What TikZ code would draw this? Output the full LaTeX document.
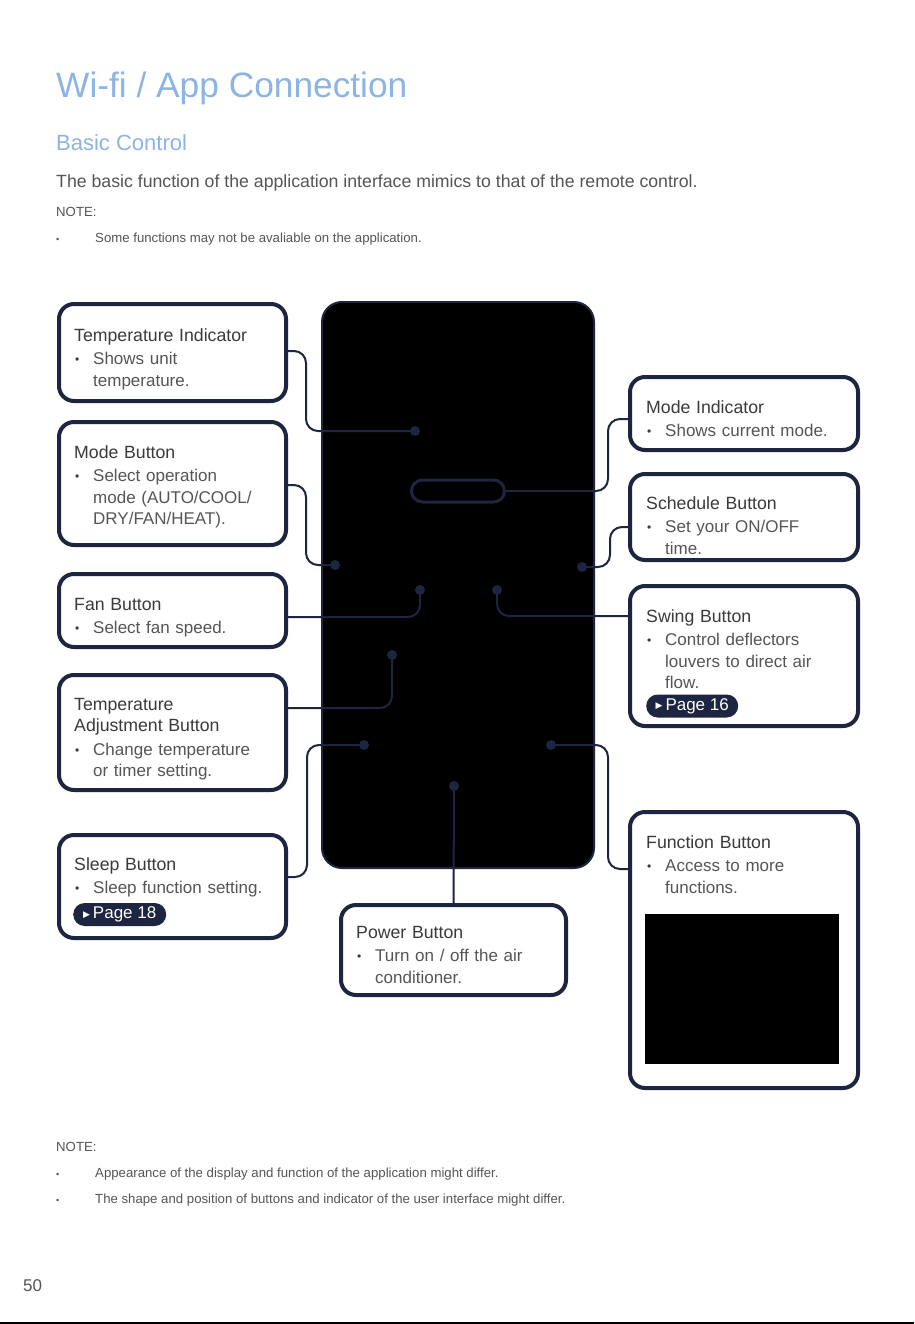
\documentclass[tikz,border=0pt]{standalone}
\usepackage{fontspec}
\setmainfont{Liberation Sans}
\newfontfamily\symfont{DejaVu Sans}
\usetikzlibrary{positioning,calc}
\definecolor{navy}{HTML}{1D2540}
\definecolor{headblue}{HTML}{8CB4E4}
\definecolor{ttlgray}{HTML}{3A3A3A}
\definecolor{txtgray}{HTML}{555555}
% box title, bullet and bullet continuation line
\newcommand{\boxttl}[1]{{\fontsize{17.7}{21.5}\selectfont #1}}
\newcommand{\bitem}{\par\vspace{2pt}\noindent
  \makebox[19pt][l]{\hspace{1pt}\raisebox{1pt}{\fontsize{12}{12}\selectfont\textbullet}}\color{txtgray}}
\newcommand{\bnext}{\par\noindent\hspace*{19pt}}
\newcommand{\pagetag}[1]{{\symfont\fontsize{9}{9}\selectfont\raisebox{1.5pt}{▶}}\hspace{3pt}Page #1}
\tikzset{
 callout/.style={draw=navy,line width=4pt,rounded corners=15pt,fill=white,
             anchor=north west,inner sep=0pt},
 boxtext/.style={anchor=base west,text width=210pt,align=left,inner sep=0pt,
             text=ttlgray,font=\fontsize{17}{21.5}\selectfont},
 wire/.style={draw=navy,line width=2pt,rounded corners=12pt},
 dot/.style={circle,fill=navy,inner sep=0pt,minimum size=10pt},
 badge/.style={fill=navy,text=white,rounded corners=11.5pt,minimum height=23pt,
             minimum width=92pt,anchor=west,inner sep=0pt,font=\fontsize{17}{17}\selectfont},
 note/.style={anchor=base west,inner sep=0pt,text=txtgray,font=\fontsize{13.2}{15}\selectfont},
 notebul/.style={anchor=base west,inner sep=0pt,text=txtgray,font=\fontsize{9}{9}\selectfont}
}
\begin{document}
\begin{tikzpicture}[x=1pt,y=1pt]
\fill[white] (0,0) rectangle (914,-1324);
\useasboundingbox (0,0) rectangle (914,-1324);

% heading
\node[anchor=base west,inner sep=0pt,text=headblue,font=\fontsize{35.3}{40}\selectfont] (title) at (56,-98) {Wi-fi / App Connection};
\node[anchor=base west,inner sep=0pt,text=headblue,font=\fontsize{22}{26}\selectfont] (subtitle) at (56,-151) {Basic Control};
\node[anchor=base west,inner sep=0pt,text=txtgray,font=\fontsize{17.7}{20}\selectfont] (intro) at (56,-188) {The basic function of the application interface mimics to that of the remote control.};
\node[note] (topnote) at (56,-217) {NOTE:};
\node[notebul] (topbul) at (56,-243) {\textbullet};
\node[note] (topnotetxt) at (95,-243) {Some functions may not be avaliable on the application.};

% app screen
\node[draw=navy,line width=2pt,fill=black,rounded corners=20pt,anchor=north west,
      minimum width=272pt,minimum height=566pt,inner sep=0pt] (phone) at (321,-301) {};
\node[draw=navy,line width=3pt,fill=black,rounded corners=11pt,minimum width=93pt,
      minimum height=22pt,inner sep=0pt] (modepill) at (458,-491) {};

% left column
\node[callout,minimum width=227pt,minimum height=97pt] (tempind) at (57,-302) {};
\node[boxtext] (tempindtxt) at (74,-341) {\boxttl{Temperature Indicator}\bitem Shows unit\bnext temperature.};
\node[callout,minimum width=227pt,minimum height=123pt] (modebtn) at (57,-420) {};
\node[boxtext] (modebtntxt) at (74,-458) {\boxttl{Mode Button}\bitem Select operation\bnext mode (AUTO/COOL/\bnext DRY/FAN/HEAT).};
\node[callout,minimum width=227pt,minimum height=73pt] (fanbtn) at (57,-572) {};
\node[boxtext] (fanbtntxt) at (74,-610) {\boxttl{Fan Button}\bitem Select fan speed.};
\node[callout,minimum width=227pt,minimum height=115pt] (tempadj) at (57,-673) {};
\node[boxtext] (tempadjtxt) at (74,-710) {\boxttl{Temperature}\par\boxttl{Adjustment Button}\bitem Change temperature\bnext or timer setting.};
\node[callout,minimum width=227pt,minimum height=103pt] (sleepbtn) at (57,-833) {};
\node[boxtext] (sleepbtntxt) at (74,-870) {\boxttl{Sleep Button}\bitem Sleep function setting.};
\node[badge,minimum width=93pt] (sleeptag) at (73,-914.5) {\pagetag{18}};

% bottom middle
\node[callout,minimum width=225pt,minimum height=90pt] (powerbtn) at (339,-903) {};
\node[boxtext] (powerbtntxt) at (356,-938) {\boxttl{Power Button}\bitem Turn on / off the air\bnext conditioner.};

% right column
\node[callout,minimum width=228pt,minimum height=73pt] (modeind) at (628,-375) {};
\node[boxtext] (modeindtxt) at (646,-413) {\boxttl{Mode Indicator}\bitem Shows current mode.};
\node[callout,minimum width=228pt,minimum height=86pt] (schedbtn) at (628,-472) {};
\node[boxtext] (schedbtntxt) at (646,-509) {\boxttl{Schedule Button}\bitem Set your ON/OFF\bnext time.};
\node[callout,minimum width=228pt,minimum height=140pt] (swingbtn) at (628,-584) {};
\node[boxtext] (swingbtntxt) at (646,-622) {\boxttl{Swing Button}\bitem Control deflectors\bnext louvers to direct air\bnext flow.};
\node[badge] (swingtag) at (646,-706) {\pagetag{16}};
\node[callout,minimum width=228pt,minimum height=276pt] (funcbtn) at (628,-810) {};
\node[boxtext] (funcbtntxt) at (646,-848) {\boxttl{Function Button}\bitem Access to more\bnext functions.};
\node[fill=black,anchor=north west,minimum width=194pt,minimum height=150pt,inner sep=0pt] (funcimg) at (645,-914) {};

% points on the screen
\node[dot] (dTempInd) at (415,-431) {};
\node[dot] (dModeBtn) at (335,-565) {};
\node[dot] (dFan) at (420,-590) {};
\node[dot] (dTempAdj) at (392,-655) {};
\node[dot] (dSleep) at (364,-745) {};
\node[dot] (dPower) at (454,-786) {};
\node[dot] (dSched) at (582,-567) {};
\node[dot] (dSwing) at (497,-590) {};
\node[dot] (dFunc) at (551,-745) {};

% leader lines
\draw[wire] ([yshift=1.5pt]tempind.east) -- ++(18,0) |- (dTempInd.center);
\draw[wire] ([yshift=-1.5pt]modebtn.east) -- ++(18,0) |- (dModeBtn.center);
\draw[wire] ([yshift=-6.5pt]fanbtn.east) -| (dFan.center);
\draw[wire] ([yshift=24.5pt]tempadj.east) -| (dTempAdj.center);
\draw[wire] ([yshift=9.5pt]sleepbtn.east) -- ++(19,0) |- (dSleep.center);
\draw[wire] (dPower.center) -- (powerbtn.north);
\draw[wire] ([yshift=-5.5pt]modeind.west) -- ++(-20,0) |- (modepill.east);
\draw[wire] ([yshift=-10pt]schedbtn.west) -- ++(-18,0) |- (dSched.center);
\draw[wire] ([yshift=40pt]swingbtn.west) -| (dSwing.center);
\draw[wire] ([yshift=-59pt]funcbtn.north west) -- ++(-20,0) |- (dFunc.center);

% footer
\node[note] (endnote) at (56,-1151) {NOTE:};
\node[notebul] (endbulA) at (56,-1177) {\textbullet};
\node[note] (endnoteA) at (95,-1177) {Appearance of the display and function of the application might differ.};
\node[notebul] (endbulB) at (56,-1203) {\textbullet};
\node[note] (endnoteB) at (95,-1203) {The shape and position of buttons and indicator of the user interface might differ.};
\node[anchor=base west,inner sep=0pt,text=txtgray,font=\fontsize{17}{20}\selectfont] (pagenum) at (23,-1291) {50};
\draw[line width=1.5pt] (0,-1323) -- (914,-1323);
\end{tikzpicture}
\end{document}
